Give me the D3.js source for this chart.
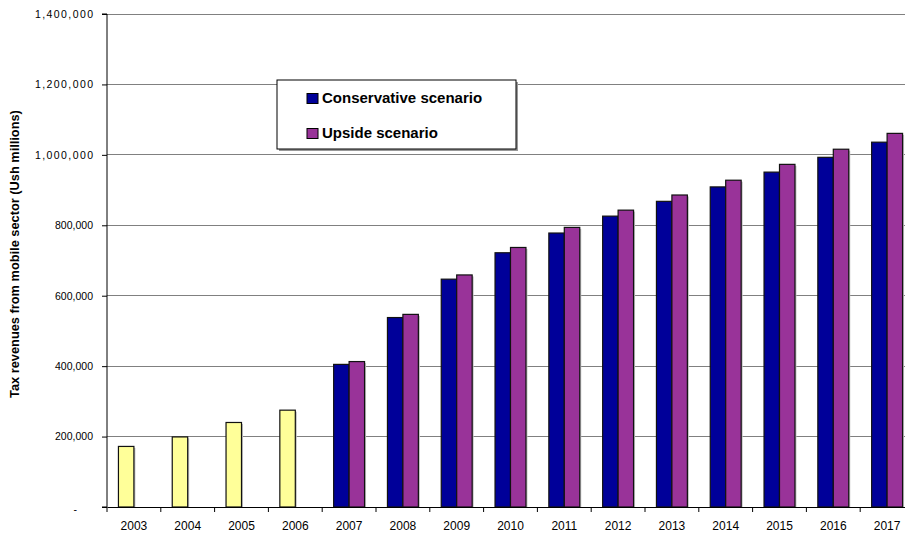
<!DOCTYPE html>
<html><head><meta charset="utf-8">
<script src="https://cdn.jsdelivr.net/npm/d3@7"></script>
<style>body{margin:0;background:#fff;overflow:hidden}svg{display:block}</style>
</head><body>
<svg id="c" width="905" height="533"></svg>
<script>
const years = ["2003","2004","2005","2006","2007","2008","2009","2010","2011","2012","2013","2014","2015","2016","2017"];
const historic = [172000, 199000, 240000, 275000, null, null, null, null, null, null, null, null, null, null, null];
const conservative = [null, null, null, null, 405000, 538000, 647000, 722000, 778000, 826000, 868000, 909000, 951000, 993000, 1036000];
const upside = [null, null, null, null, 413000, 547000, 659000, 737000, 794000, 843000, 886000, 928000, 973000, 1016000, 1061000];
const yTicks = [0, 200000, 400000, 600000, 800000, 1000000, 1200000, 1400000];
const legendLabels = ["Conservative scenario", "Upside scenario"];
const colors = {historic:"#FFFF99", conservative:"#000099", upside:"#993399"};

const svg = d3.select("#c");
const mLeft = 107, mRight = 914, mTop = 14, mBottom = 507;
const font = "'Liberation Sans', Arial, Helvetica, sans-serif";

const x = d3.scaleBand().domain(years).range([mLeft, mRight]);
const inner = d3.scaleBand().domain(["a","b"]).range([0, x.bandwidth()]).paddingOuter(0.74).paddingInner(0);
const y = d3.scaleLinear().domain([0, 1400000]).range([mBottom, mTop]);

// gridlines
svg.append("g").selectAll("line").data(yTicks.filter(d => d > 0)).join("line")
  .attr("x1", mLeft).attr("x2", mRight).attr("y1", d => y(d)).attr("y2", d => y(d))
  .attr("stroke", "#808080").attr("stroke-width", 1).attr("shape-rendering", "crispEdges");

// bars
function drawBars(data, key, color) {
  const g = svg.append("g");
  const rows = years.map((yr, i) => ({yr, v: data[i]})).filter(d => d.v != null);
  g.selectAll("rect.sh").data(rows).join("rect").attr("class", "sh")
    .attr("x", d => x(d.yr) + inner(key) + 1.5).attr("y", d => y(d.v) + 1.5)
    .attr("width", inner.bandwidth()).attr("height", d => mBottom - y(d.v) - 1.5)
    .attr("fill", "#c0c0c0");
  g.selectAll("rect.b").data(rows).join("rect").attr("class", "b")
    .attr("x", d => x(d.yr) + inner(key)).attr("y", d => y(d.v))
    .attr("width", inner.bandwidth()).attr("height", d => mBottom - y(d.v))
    .attr("fill", color).attr("stroke", "#111").attr("stroke-width", 1.2);
}
drawBars(historic, "a", colors.historic);
drawBars(conservative, "a", colors.conservative);
drawBars(upside, "b", colors.upside);

// y axis
const yAxis = d3.axisLeft(y).tickValues(yTicks).tickSize(5).tickPadding(9)
  .tickFormat(d => d === 0 ? "-" : d3.format(",")(d));
const ya = svg.append("g").attr("transform", `translate(${mLeft},0)`).call(yAxis);
ya.select(".domain").attr("stroke", "#000").attr("d", `M-5,${y(1400000)}H0V${mBottom}H-5`);
ya.selectAll(".tick line").attr("stroke", "#000");
ya.selectAll(".tick text").attr("font-family", font).attr("font-size", 10.5).attr("fill", "#000");
ya.selectAll(".tick").filter(d => d >= 1000000).select("text")
  .attr("textLength", 58).attr("lengthAdjust", "spacing");
ya.selectAll(".tick").filter(d => d === 0).select("text").attr("dx", -16).attr("dy", "0.55em");

// x axis
const xa = svg.append("g").attr("transform", `translate(0,${mBottom})`)
  .call(d3.axisBottom(x).tickSize(0).tickPadding(14));
xa.select(".domain").attr("stroke", "#000");
xa.selectAll(".tick text").attr("font-family", font).attr("font-size", 12).attr("fill", "#000");
// category boundary ticks
svg.append("g").selectAll("line").data(d3.range(years.length + 1)).join("line")
  .attr("x1", i => mLeft + i * x.step()).attr("x2", i => mLeft + i * x.step())
  .attr("y1", mBottom).attr("y2", mBottom + 5).attr("stroke", "#000");

// y title
svg.append("text").attr("transform", `translate(19,254) rotate(-90)`)
  .attr("text-anchor", "middle").attr("font-family", font).attr("font-size", 12.8)
  .attr("font-weight", "bold").text("Tax revenues from mobile sector (Ush millions)");

// legend
const lg = svg.append("g").attr("transform", "translate(277,80)");
lg.append("rect").attr("x", 2).attr("y", 2).attr("width", 239).attr("height", 69).attr("fill", "#999");
lg.append("rect").attr("x", 0).attr("y", 0).attr("width", 239).attr("height", 69).attr("fill", "#fff").attr("stroke", "#000");
const legendColors = [colors.conservative, colors.upside];
legendLabels.forEach((lab, i) => {
  const base = 23 + i * 35;
  lg.append("rect").attr("x", 30).attr("y", base - 9.5).attr("width", 11).attr("height", 10)
    .attr("fill", legendColors[i]).attr("stroke", "#000");
  lg.append("text").attr("x", 45).attr("y", base).attr("font-family", font).attr("font-size", 15)
    .attr("font-weight", "bold").text(lab);
});
</script>
</body></html>
